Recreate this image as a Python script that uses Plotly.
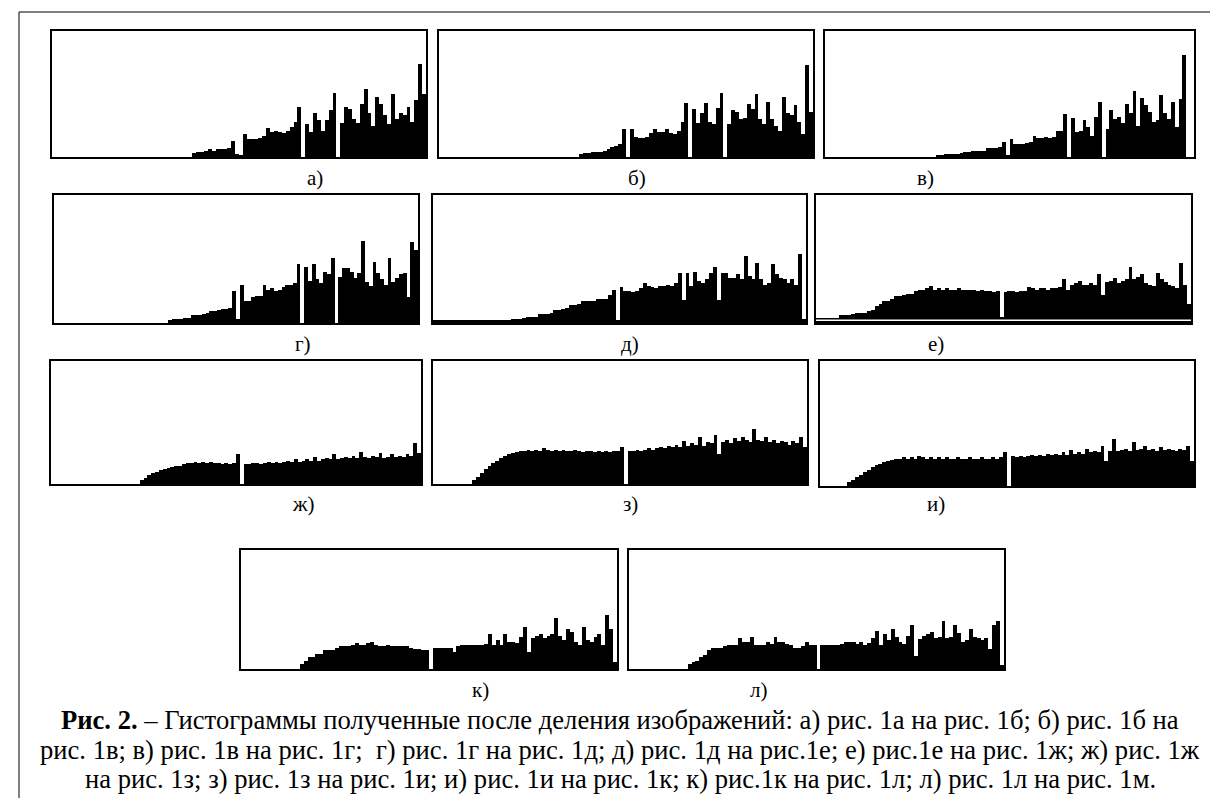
import plotly.graph_objects as go

W, H = 1218, 798

# ---- histogram values (percent of panel height), 96 bins each ----
hist_a = [0,0,0,0,0,0,0,0,0,0, 0,0,0,0,0,0,0,0,0,0, 0,0,0,0,0,0,0,0,0,0, 0,0,0,0,0,0,
          3,4,4,5,6,5,6,6,6,7, 13,2,1,18,14,14,14,15,17,23, 20,21,20,19,21,24,28,40,0,26,
          20,35,29,21,29,37,51,0,27,40, 38,30,27,42,54,35,25,48,42,33, 26,50,30,35,33,40,28,45,74,50]
hist_b = [0,0,0,0,0,0,0,0,0,0, 0,0,0,0,0,0,0,0,0,0, 0,0,0,0,0,0,0,0,0,0, 0,0,0,0,0,0,
          2,3,3,4,4,4,5,6,8,9, 10,22,0,22,16,15,15,16,19,22, 20,20,22,19,18,21,28,43,0,38,
          27,35,43,28,26,39,51,0,26,37, 36,30,31,42,38,50,30,26,44,30, 25,21,48,35,33,41,28,18,73,36]
hist_v = [0,0,0,0,0,0,0,0,0,0, 0,0,0,0,0,0,0,0,0,0, 0,0,0,0,0,0,0,0,0,
          1,1,2,2,2,2,3,4,4,5, 5,5,5,7,7,7,8,12,1,14, 10,10,10,11,12,17,15,15,16,15,
          16,21,21,34,0,31,20,21,29,24, 17,32,44,0,22,37,30,32,27,42, 35,52,25,47,41,36,28,29,49,35,
          30,44,24,46,81,0,0]
hist_g = [0,0,0,0,0,0,0,0,0,0, 0,0,0,0,0,0,0,0,0,0, 0,0,0,0,0,0,0,0,0,0,
          2,3,3,3,4,4,6,6,6,7, 8,9,9,10,11,11,12,25,3,30, 17,17,20,21,21,30,26,27,25,26,
          28,30,30,31,46,0,44,33,46,34, 31,40,38,51,0,36,43,43,40,35, 39,64,32,29,48,39,34,30,51,32,
          35,38,39,20,63,57]
hist_d = [2,2,2,2,2,2,2,2,2,2, 2,2,2,2,2,2,2,2,2,2,
          3,3,3,4,5,5,5,7,7,7, 8,10,10,11,12,14,14,15,17,17, 17,17,19,19,19,22,26,2,28,25,
          25,24,25,27,31,29,28,27,29,29, 30,29,31,39,18,39,29,40,33,31, 34,39,44,18,39,39,35,35,38,34,
          52,37,34,47,34,30,31,46,38,35, 34,31,34,30,54,3]
hist_e = [4,4,4,4,4,4,6,6,6,7, 8,8,8,9,10,13,15,17,17,19, 21,21,22,23,23,25,26,26,27,29,
          26,27,26,27,26,26,27,26,26,26, 26,25,26,25,25,24,25,5,24,25, 25,24,25,25,28,27,26,27,27,26,
          27,27,28,34,26,30,31,33,30,30, 31,30,38,22,32,33,35,31,33,34, 44,34,36,38,31,30,29,39,34,32,
          30,29,27,47,30,15]
hist_zh = [0,0,0,0,0,0,0,0,0,0, 0,0,0,0,0,0,0,0,0,0, 0,0,0,
           3,5,7,9,10,11,12,13,14,15,15,16,17,17,18,17,18,17,18,17,17,16,17,16,17,24,0,
           16,16,17,17,16,17,18,17,18,17, 18,19,18,20,18,19,20,19,22,19, 20,21,20,24,20,21,22,21,23,21,
           26,22,21,23,22,25,21,22,24,22, 23,22,24,23,33,25]
hist_z = [0,0,0,0,0,0,0,0,0,0,
          3,6,9,12,15,17,19,21,23,24, 25,26,27,27,28,27,28,27,29,28, 27,28,27,28,27,27,28,27,26,27,
          27,26,27,26,27,26,27,27,30,0, 27,27,28,27,28,29,28,29,30,29, 31,30,32,30,35,31,33,32,38,31,
          34,33,40,24,34,36,33,37,35,38, 36,34,45,36,35,38,34,36,33,35, 34,32,35,33,38,30]
hist_i = [0,0,0,0,0,0,0,
          3,5,7,9,11,13,15,17,18,19,20,21,22,22,23,22,23,22,24,23,22,23,22,23,22,23,22,22,23,22,
          22,23,22,22,23,22,22,23,22,23,27,0,24,23,24,23,24,25,24,25,24,26,25,26,25,27,25,29,26,27,
          26,30,27,28,27,32,20,28,38,28,29,30,28,35,29,30,32,29,30,28,31,29,30,29,28,30,29,32,20]
hist_k = [0,0,0,0,0,0,0,0,0,0, 0,0,0,0,0,
          4,7,10,10,13,13,16,16,16,18, 19,19,19,20,22,20,20,22,23,20, 19,19,20,19,19,19,19,19,18,17,
          17,16,16,0,18,18,18,18,18,14, 19,20,20,20,20,20,20,21,29,20, 24,20,29,23,23,22,27,35,14,26,
          28,29,26,28,29,43,28,24,34,31, 23,20,35,24,23,27,29,20,45,34, 6]
hist_l = [0,0,0,0,0,0,0,0,0,0, 0,0,0,0,0,
          4,6,7,10,12,16,18,18,18,19, 20,20,20,26,23,23,27,20,20,20, 23,21,27,23,23,21,20,18,18,19,
          23,20,20,0,20,20,20,20,20,21, 23,23,23,21,23,20,22,26,32,20, 29,24,34,27,23,21,28,37,11,25,
          28,29,31,26,27,40,26,27,37,30, 23,24,34,27,26,24,26,17,37,40, 3]

labels = ["а)", "б)", "в)", "г)", "д)", "е)", "ж)", "з)", "и)", "к)", "л)"]
series = [hist_a, hist_b, hist_v, hist_g, hist_d, hist_e, hist_zh, hist_z, hist_i, hist_k, hist_l]

# panel frames in pixels: x0, x1, y_top, y_bottom
frames = [(44, 418, 23, 149), (431, 805, 23, 149), (817, 1186, 23, 149),
          (46, 410, 187, 315), (425, 798, 187, 315), (808, 1183, 187, 315),
          (43, 413, 353, 476), (425, 799, 353, 476), (812, 1186, 353, 478),
          (233, 609, 542, 661), (621, 996, 542, 661)]
label_pos = [(307, 170), (629, 170), (917, 170),
             (295, 336), (622, 336), (928, 336),
             (295, 496), (622, 496), (928, 496),
             (472, 682), (750, 682)]

fig = go.Figure()
layout = {}
annotations = []
shapes = []
for k, vals in enumerate(series):
    s = "" if k == 0 else str(k + 1)
    x0, x1, yt, yb = frames[k]
    fig.add_trace(go.Bar(x=list(range(len(vals))), y=vals, width=1,
                         marker=dict(color="black", line=dict(width=0)),
                         xaxis="x" + s, yaxis="y" + s, showlegend=False, hoverinfo="skip"))
    common = dict(showgrid=False, zeroline=False, showticklabels=False, ticks="",
                  showline=True, mirror=True, linecolor="black", linewidth=2, fixedrange=True)
    layout["xaxis" + s] = dict(domain=[x0 / W, x1 / W], range=[-0.5, len(vals) - 0.5],
                               anchor="y" + s, **common)
    layout["yaxis" + s] = dict(domain=[1 - yb / H, 1 - yt / H], range=[0, 100],
                               anchor="x" + s, **common)
    lx, ly = label_pos[k]
    annotations.append(dict(text=labels[k], x=lx / W, y=1 - ly / H, xref="paper", yref="paper",
                            showarrow=False, xanchor="center", yanchor="middle",
                            font=dict(family="Liberation Serif", size=21, color="black")))

# thin white line near the bottom of panel е)
shapes.append(dict(type="line", xref="x6", yref="y6", x0=-0.5, x1=95.5, y0=2.2, y1=2.2,
                   line=dict(color="white", width=1.5)))

caption = [
    "<b>Рис. 2.</b> – Гистограммы полученные после деления изображений: а) рис. 1а на рис. 1б; б) рис. 1б на",
    "рис. 1в; в) рис. 1в на рис. 1г;  г) рис. 1г на рис. 1д; д) рис. 1д на рис.1е; е) рис.1е на рис. 1ж; ж) рис. 1ж",
    "на рис. 1з; з) рис. 1з на рис. 1и; и) рис. 1и на рис. 1к; к) рис.1к на рис. 1л; л) рис. 1л на рис. 1м.",
]
for line, cy in zip(caption, [712, 742, 771]):
    annotations.append(dict(text=line, x=612 / W, y=1 - cy / H, xref="paper", yref="paper",
                            showarrow=False, xanchor="center", yanchor="middle",
                            font=dict(family="Liberation Serif", size=26.6, color="black")))

shapes += [
    dict(type="line", xref="paper", yref="paper", x0=11 / W, x1=1210 / W, y0=1 - 4 / H, y1=1 - 4 / H,
         line=dict(color="black", width=1)),
    dict(type="line", xref="paper", yref="paper", x0=11 / W, x1=11 / W, y0=0, y1=1 - 4 / H,
         line=dict(color="black", width=1)),
    dict(type="line", xref="paper", yref="paper", x0=1210 / W, x1=1210 / W, y0=0, y1=1 - 4 / H,
         line=dict(color="black", width=1)),
]

fig.update_layout(width=W, height=H, margin=dict(l=0, r=0, t=0, b=0),
                  paper_bgcolor="white", plot_bgcolor="white", bargap=0,
                  annotations=annotations, shapes=shapes, **layout)
fig.write_html("out.html")
